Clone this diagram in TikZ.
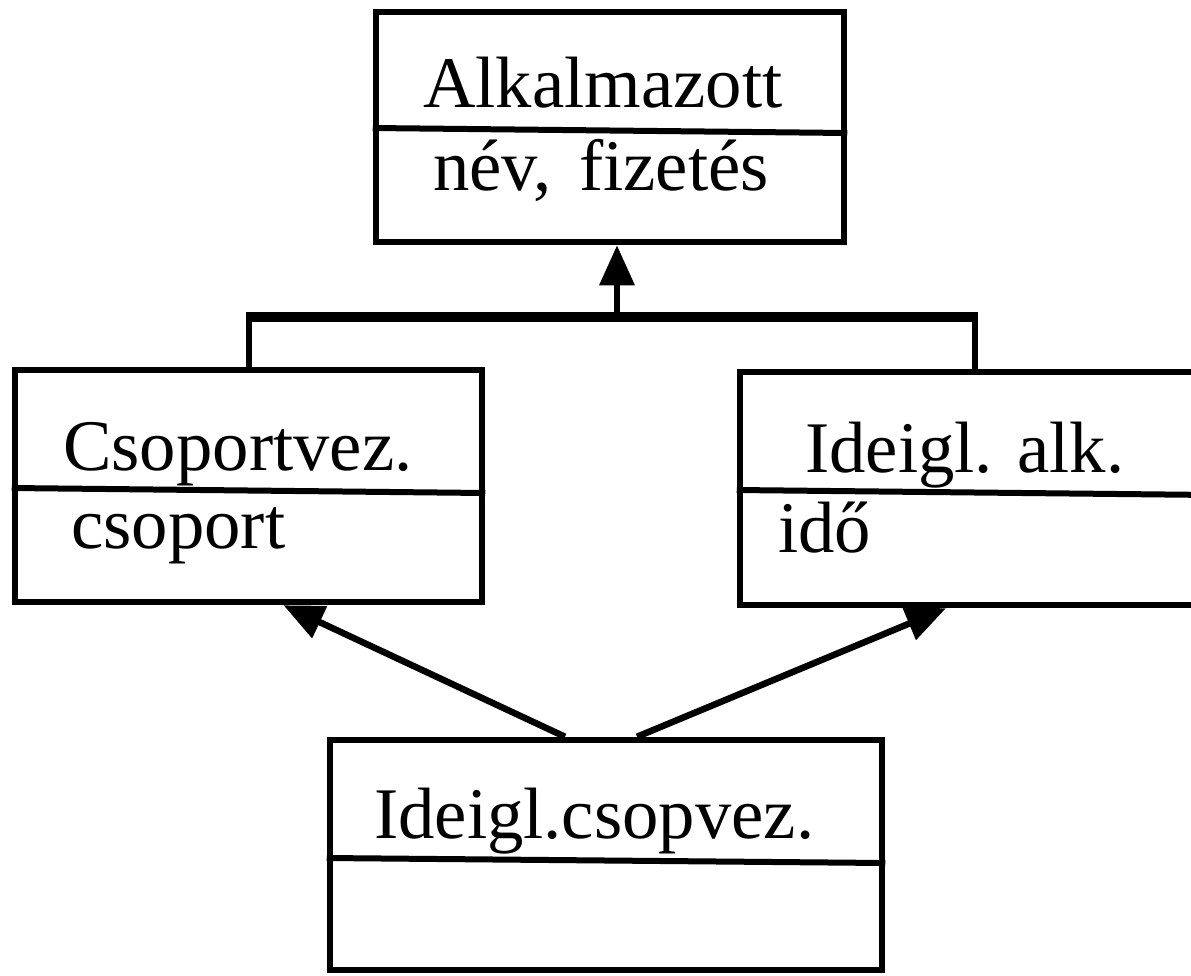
\documentclass[tikz,border=0pt]{standalone}
\usepackage{fontspec}
\setmainfont{Liberation Serif}
\usetikzlibrary{arrows.meta}
\begin{document}
\begin{tikzpicture}[x=1pt,y=-1pt,
  classbox/.style={draw=black,line width=6.5pt,rectangle,inner sep=0pt},
  divider/.style={line width=6pt},
  label/.style={anchor=base west,inner sep=0pt,font=\fontsize{72.7}{80}\selectfont},
  link/.style={line width=6pt},
  genbar/.style={line width=10pt},
  inherit/.style={line width=6.5pt,-{Triangle[length=40pt,width=34pt]}}]
\useasboundingbox (0,0) rectangle (1191,975);
\clip (0,0) rectangle (1191,975);

% class boxes
\node[classbox,minimum width=468pt,minimum height=230pt] (alk) at (610,127) {};
\node[classbox,minimum width=467pt,minimum height=232pt] (csv) at (248.5,486) {};
\node[classbox,minimum width=470pt,minimum height=233pt] (ida) at (975,488.5) {};
\node[classbox,minimum width=552pt,minimum height=230pt] (ics) at (606,855) {};

% compartment dividers (drawn slightly sloped)
\draw[divider] (alk.west |- 0,128) -- (alk.east |- 0,133);
\draw[divider] (csv.west |- 0,488) -- (csv.east |- 0,493);
\draw[divider] (ida.west |- 0,490) -- (ida.east |- 0,495);
\draw[divider] (ics.west |- 0,858) -- (ics.east |- 0,863);

% names and attributes
\node[label] (t1) at (423,107) {Alkalmazott};
\node[label] (a1) at (433,190) {név,\hspace{0.38em}fizetés};
\node[label] (t2) at (63,470) {Csoportvez.};
\node[label] (a2) at (71,548) {csoport};
\node[label] (t3) at (805,472) {Ideigl. alk.};
\node[label] (a3) at (778,552) {idő};
\node[label] (t4) at (374,838) {Ideigl.csopvez.};

% generalisation tree to Alkalmazott
\coordinate (barmid) at (617,317);
\draw[link] (csv.north) -- (csv.north |- barmid);
\draw[link] (ida.north) -- (ida.north |- barmid);
\draw[genbar] ([xshift=-3pt]csv.north |- barmid) -- ([xshift=3pt]ida.north |- barmid);
\draw[inherit] (barmid) -- (alk.south -| barmid);

% multiple inheritance of Ideigl.csopvez.
\draw[inherit] ([xshift=-41pt]ics.north) -- ([xshift=35pt]csv.south);
\draw[inherit] ([xshift=31pt]ics.north) -- ([xshift=-29pt]ida.south);
\end{tikzpicture}
\end{document}
